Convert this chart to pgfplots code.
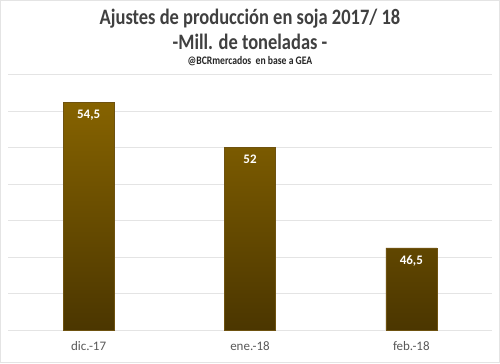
\documentclass[border=0pt]{standalone}
\usepackage{pgfplots}
\pgfplotsset{compat=1.18}
\usepackage{fontspec}
\setmainfont{Carlito}
\newfontfamily\titlefont{Carlito Bold}[FakeStretch=0.84]
\newfontfamily\boldfont{Carlito Bold}
\definecolor{bartop}{HTML}{866300}
\definecolor{barbot}{HTML}{4B3600}
\definecolor{barline}{HTML}{6E5210}
\definecolor{gridc}{HTML}{E4E4E4}
\definecolor{ticktxt}{HTML}{595959}
\definecolor{titletxt}{HTML}{404040}
\begin{document}
\begin{tikzpicture}[x=1bp,y=1bp]
\draw[draw=gridc, line width=1bp, fill=white] (0.5,0.5) rectangle (499.5,362.5);
\begin{axis}[
  at={(8bp,33bp)}, anchor=south west,
  scale only axis, width=484bp, height=255.3bp,
  xmin=-0.5, xmax=2.5, ymin=42, ymax=56,
  ytick={42,44,...,56}, yticklabels={},
  xtick=data, xticklabels={dic.-17,ene.-18,feb.-18},
  ymajorgrids, grid style={draw=gridc, line width=1bp},
  axis line style={draw=none}, major tick length=0pt,
  x tick label style={font=\fontsize{13bp}{15bp}\selectfont, text=ticktxt, yshift=-8bp},
  ybar, bar width=51bp, clip=false,
  nodes near coords,
  nodes near coords style={anchor=north, yshift=-4bp, text=white, font=\boldfont\fontsize{13bp}{15bp}\selectfont},
  /pgf/number format/use comma,
  /pgf/number format/fixed,
  /pgf/number format/precision=1,
  /pgf/number format/assume math mode=true,
]
\addplot[draw=barline, line width=0.6bp, top color=bartop, bottom color=barbot] coordinates {(0,54.5) (1,52) (2,46.5)};
\end{axis}
\node[text=titletxt, font=\titlefont\fontsize{22bp}{24bp}\selectfont] at (250,344) {Ajustes de producción en soja 2017/ 18};
\node[text=titletxt, font=\titlefont\fontsize{22bp}{24bp}\selectfont] at (250,321) {-Mill. de toneladas -};
\node[text=black!85, font=\titlefont\fontsize{11.5bp}{13bp}\selectfont] at (250,302) {@BCRmercados\ \ en base a GEA};
\end{tikzpicture}
\end{document}
